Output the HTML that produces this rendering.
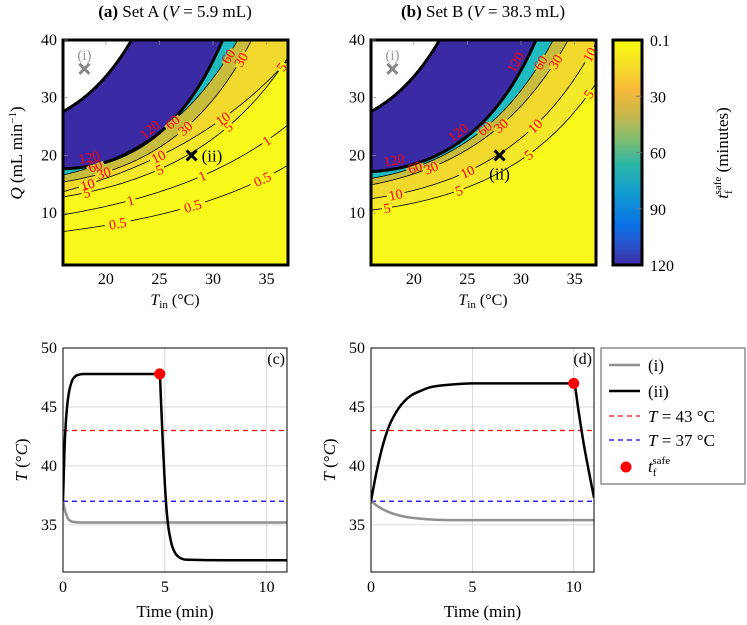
<!DOCTYPE html>
<html><head><meta charset="utf-8"><style>
html,body{margin:0;padding:0;background:#fff}
svg{display:block;font-family:"Liberation Serif",serif}
</style></head><body>
<svg id="fig" width="747" height="625" viewBox="0 0 747 625" xmlns="http://www.w3.org/2000/svg">
<defs>
<linearGradient id="cbg" x1="0" y1="0" x2="0" y2="1">
<stop offset="0" stop-color="#f9fb0e"/><stop offset="0.12" stop-color="#f6dc2a"/>
<stop offset="0.22" stop-color="#f7b83a"/><stop offset="0.33" stop-color="#c9b84a"/>
<stop offset="0.45" stop-color="#7cbc72"/><stop offset="0.55" stop-color="#2cb6a4"/>
<stop offset="0.68" stop-color="#139cd0"/><stop offset="0.82" stop-color="#0a72e6"/>
<stop offset="0.92" stop-color="#2a50c8"/><stop offset="1" stop-color="#3d2aa2"/>
</linearGradient>
<clipPath id="clipA"><rect x="63" y="40" width="225" height="225"/></clipPath>
<clipPath id="clipB"><rect x="371" y="40" width="225" height="225"/></clipPath>
<clipPath id="clipC"><rect x="63" y="348" width="224" height="224"/></clipPath>
<clipPath id="clipD"><rect x="371" y="348" width="223" height="224"/></clipPath>
</defs>
<g id="root"></g>
</svg>
<script>
// ---- contour data (panel a): three (T,Q) points on each contour
const levelsA = ['W', 120, 60, 30, 10, 5, 1, 0.5];
const qLeftA = [27.6, 17.7, 16.6, 15.4, 13.7, 12.8, 9.7, 6.8];   // Q at T=16
const tMidA  = [19.1, 25.3, 26.0, 27.4, 24.9, 24.9, 28.8, 27.8];
const qMidA  = [31.9, 24.4, 25.5, 24.7, 19.8, 17.5, 16.3, 11.1];
const tEndA  = [22.4, 30.9, 32.3, 33.6, 37, 37, 37, 37];
const qEndA  = [40, 40, 40, 40, 36.5, 37, 25.3, 18.3];
// ---- contour data (panel b)
const levelsB = ['W', 120, 60, 30, 10, 5];
const qLeftB = [27.6, 17.2, 16.0, 14.9, 12.5, 10.5];
const tMidB  = [19.1, 25.3, 26.6, 27.8, 25.0, 30.6];
const qMidB  = [31.9, 23.8, 24.7, 24.7, 17.2, 20.0];
const tEndB  = [22.4, 31.4, 33.0, 34.4, 37, 37];
const qEndB  = [40, 40, 40, 40, 39.5, 32.5];
// label T positions per level
const labelTA = [[], [18.6, 24.6], [19.0, 26.2, 31.4], [19.8, 27.4, 32.6], [18.3, 24.9, 30.9], [18.2, 25.0, 31.4, 36.4], [22.3, 29.0, 35.0], [21.1, 28.1, 34.6]];
const labelTB = [[], [18.3, 24.6, 30.2], [20.1, 26.6, 31.8], [21.6, 28.1, 33.2], [18.3, 25.0, 31.3, 36.4], [17.5, 24.2, 30.7, 36.3]];
const markT = [18, 28];
const markQ = [35, 20];
// ---- time series
const tCi = [0, 0.1, 0.2, 0.3, 0.5, 0.8, 1, 2, 11];
const yCi = [37, 36.2, 35.7, 35.4, 35.25, 35.2, 35.2, 35.2, 35.2];
const tCii = [0, 0.05, 0.1, 0.2, 0.3, 0.4, 0.5, 0.7, 1, 2, 4, 4.75, 4.8, 4.9, 5, 5.1, 5.2, 5.4, 5.6, 5.8, 6, 8, 11];
const yCii = [37, 40, 42.5, 45, 46.3, 47, 47.4, 47.7, 47.8, 47.8, 47.8, 47.8, 46, 42, 38.5, 36, 34.5, 33, 32.4, 32.15, 32.05, 32, 32];
const tDi = [0, 0.5, 1, 1.5, 2, 3, 4, 6, 11];
const yDi = [37, 36.4, 36, 35.75, 35.6, 35.45, 35.4, 35.4, 35.4];
const tDii = [0, 0.25, 0.5, 0.75, 1, 1.5, 2, 2.5, 3, 4, 5, 6, 8, 10, 10.25, 10.5, 10.75, 11];
const yDii = [37, 39.3, 41.2, 42.7, 43.8, 45.2, 46, 46.4, 46.7, 46.9, 47, 47, 47, 47, 44.5, 41.8, 39.5, 37.3];
const safeT = [4.75, 10];
const safeY = [47.8, 47];
const xTicksTop = [20, 25, 30, 35];
const yTicksTop = [10, 20, 30, 40];
const xTicksBot = [0, 5, 10];
const yTicksBot = [35, 40, 45, 50];
const cbTicks = ['0.1', '30', '60', '90', '120'];

const NS = 'http://www.w3.org/2000/svg';
const root = document.getElementById('root');
function el(tag, attrs, parent, txt) {
  const e = document.createElementNS(NS, tag);
  for (const k in attrs) e.setAttribute(k, attrs[k]);
  if (txt !== undefined) e.textContent = txt;
  (parent || root).appendChild(e);
  return e;
}
const fillAbove = {'W': '#ffffff', 120: '#3a2aa4', 60: '#1ebcc0', 30: '#c8bc3c', 10: '#f0d82c', 5: '#f4e82a', 1: null, 0.5: null};
const bandBelow = {'W': '#3a2aa4', 120: '#1ebcc0', 60: '#c8bc3c', 30: '#f0d82c', 10: '#f4e82a', 5: '#f8f81a', 1: '#f8f81a', 0.5: '#f8f81a'};

function topPanel(x0, levels, qL, tM, qM, tE, qE, labs, clip, name) {
  const sx = T => x0 + (T - 16) / 21 * 225;
  const sy = Q => 265 - (Q - 1) / 39 * 225;
  const qf = (i, T) => {
    const x0_ = 16, x1 = tM[i], x2 = tE[i];
    const a = Math.log(qL[i]), b = Math.log(qM[i]), c = Math.log(qE[i]);
    const v = a * (T - x1) * (T - x2) / ((x0_ - x1) * (x0_ - x2))
            + b * (T - x0_) * (T - x2) / ((x1 - x0_) * (x1 - x2))
            + c * (T - x0_) * (T - x1) / ((x2 - x0_) * (x2 - x1));
    return Math.exp(v);
  };
  const g = el('g', {'clip-path': 'url(#' + clip + ')'});
  
  
  const bg = el('rect', {x: x0, y: 40, width: 225, height: 225, fill: '#f8f81a'}, g);
  
  
  const pathFor = i => {
    let d = '';
    for (let T = 16; T <= 37.001; T += 0.1) {
      let q = qf(i, T);
      if (!(q < 60)) q = 60;
      d += (d ? 'L' : 'M') + sx(T).toFixed(2) + ' ' + sy(q).toFixed(2);
    }
    return d;
  };
  for (let i = levels.length - 1; i >= 0; i--) {
    const col = fillAbove[levels[i]];
    if (!col) continue;
    const p = el('path', {d: pathFor(i) + 'L' + sx(37) + ' 0L' + sx(16) + ' 0Z', fill: col}, g);
    
    
  }
  for (let i = 0; i < levels.length; i++) {
    const thick = (levels[i] === 'W' || levels[i] === 120);
    const p = el('path', {d: pathFor(i), fill: 'none', stroke: '#000', 'stroke-width': thick ? 3 : 0.8}, g);
    
    
    for (const T of labs[i]) {
      const px = sx(T), py = sy(qf(i, T));
      const ang = Math.atan2(sy(qf(i, T + 0.1)) - py, sx(T + 0.1) - px) * 180 / Math.PI;
      const s = String(levels[i]);
      const off = thick ? -9 : 0;
      const tg = el('g', {transform: 'rotate(' + ang.toFixed(1) + ' ' + px + ' ' + py + ')'}, g);
      if (!thick) el('rect', {x: px - s.length * 4 - 1, y: py - 2, width: s.length * 8 + 2, height: 4, fill: bandBelow[levels[i]]}, tg);
      const t = el('text', {x: px, y: py + 5 + off, fill: '#f00', 'font-size': 14, 'text-anchor': 'middle'}, tg, s);
      
      
    }
  }
  const fr = el('rect', {x: x0, y: 40, width: 225, height: 225, fill: 'none', stroke: '#000', 'stroke-width': 3});
  
  
  for (const v of xTicksTop) {
    const t = el('text', {x: sx(v), y: 284, 'font-size': 16, 'text-anchor': 'middle'}, root, String(v));
    
    
    const tk = el('line', {x1: sx(v), x2: sx(v), y1: 41, y2: 45, stroke: '#888', 'stroke-width': 0.7});
    
    
  }
  for (const v of yTicksTop) {
    const t = el('text', {x: x0 - 6, y: sy(v) + 5, 'font-size': 16, 'text-anchor': 'end'}, root, String(v));
    
    
    const tk = el('line', {x1: x0 + 1, x2: x0 + 5, y1: sy(v), y2: sy(v), stroke: '#888', 'stroke-width': 0.7});
    
    
  }
  const cross = (T, Q, col, nm) => {
    const cx = sx(T), cy = sy(Q);
    const m = el('path', {d: `M${cx - 5} ${cy - 5}L${cx + 5} ${cy + 5}M${cx - 5} ${cy + 5}L${cx + 5} ${cy - 5}`, stroke: col, 'stroke-width': 3});
    
    
  };
  cross(markT[0], markQ[0], '#888', 'marker-i');
  cross(markT[1], markQ[1], '#000', 'marker-ii');
  const li = el('text', {x: sx(markT[0]), y: sy(markQ[0]) - 9, 'font-size': 15, fill: '#999', 'text-anchor': 'middle'}, root, '(i)');
  
  
  const lii = name === 'panel-a'
    ? el('text', {x: sx(markT[1]) + 10, y: sy(markQ[1]) + 6, 'font-size': 17}, root, '(ii)')
    : el('text', {x: sx(markT[1]), y: sy(markQ[1]) + 24, 'font-size': 17, 'text-anchor': 'middle'}, root, '(ii)');
  
  
  const xl = el('text', {x: x0 + 112, y: 305, 'font-size': 16, 'text-anchor': 'middle'});
  
  
  xl.innerHTML = '<tspan font-style="italic">T</tspan><tspan font-size="11" dy="3">in</tspan><tspan dy="-3"> (°C)</tspan>';
}

// monotone cubic (Fritsch-Carlson) path, no overshoot
function monoPath(xs, ys) {
  const n = xs.length, d = [], m = [];
  for (let i = 0; i < n - 1; i++) d.push((ys[i + 1] - ys[i]) / (xs[i + 1] - xs[i]));
  m[0] = d[0]; m[n - 1] = d[n - 2];
  for (let i = 1; i < n - 1; i++) m[i] = (d[i - 1] * d[i] <= 0) ? 0 : 2 / (1 / d[i - 1] + 1 / d[i]);
  let p = 'M' + xs[0].toFixed(2) + ' ' + ys[0].toFixed(2);
  for (let i = 0; i < n - 1; i++) {
    const h = (xs[i + 1] - xs[i]) / 3;
    p += `C${(xs[i] + h).toFixed(2)} ${(ys[i] + m[i] * h).toFixed(2)} ${(xs[i + 1] - h).toFixed(2)} ${(ys[i + 1] - m[i + 1] * h).toFixed(2)} ${xs[i + 1].toFixed(2)} ${ys[i + 1].toFixed(2)}`;
  }
  return p;
}

function botPanel(x0, w, ti, yi, tii, yii, k, clip, tag) {
  const sx = t => x0 + t / 11 * w;
  const sy = T => 348 + (50 - T) * 224 / 19;
  for (const v of xTicksBot) {
    const gl = el('line', {x1: sx(v), x2: sx(v), y1: 348, y2: 572, stroke: '#d0d0d0', 'stroke-width': 0.8});
    
    
    const t = el('text', {x: sx(v), y: 592, 'font-size': 16, 'text-anchor': 'middle'}, root, String(v));
    
    
  }
  for (const v of yTicksBot) {
    const gl = el('line', {x1: x0, x2: x0 + w, y1: sy(v), y2: sy(v), stroke: '#d0d0d0', 'stroke-width': 0.8});
    
    
    const t = el('text', {x: x0 - 6, y: sy(v) + 5, 'font-size': 16, 'text-anchor': 'end'}, root, String(v));
    
    
  }
  const g = el('g', {'clip-path': 'url(#' + clip + ')'});
  const r43 = el('line', {x1: x0, x2: x0 + w, y1: sy(43), y2: sy(43), stroke: '#f00', 'stroke-width': 1.3, 'stroke-dasharray': '5 4'}, g);
  
  
  const r37 = el('line', {x1: x0, x2: x0 + w, y1: sy(37), y2: sy(37), stroke: '#00f', 'stroke-width': 1.3, 'stroke-dasharray': '5 4'}, g);
  
  
  const p1 = el('path', {d: monoPath(ti.map(sx), yi.map(sy)), fill: 'none', stroke: '#909090', 'stroke-width': 2.5}, g);
  
  
  const p2 = el('path', {d: monoPath(tii.map(sx), yii.map(sy)), fill: 'none', stroke: '#000', 'stroke-width': 2.5}, g);
  
  
  const dot = el('circle', {cx: sx(safeT[k]), cy: sy(safeY[k]), r: 5.5, fill: '#f00'});
  
  
  const fr = el('rect', {x: x0, y: 348, width: w, height: 224, fill: 'none', stroke: '#000', 'stroke-width': 1});
  
  
  const pl = el('text', {x: x0 + w - 2, y: 364, 'font-size': 16, 'text-anchor': 'end'}, root, tag);
  
  
  const xl = el('text', {x: x0 + w / 2, y: 617, 'font-size': 17, 'text-anchor': 'middle'}, root, 'Time (min)');
  
  
  const yl = el('text', {x: 0, y: 0, 'font-size': 17, 'text-anchor': 'middle', transform: `translate(${x0 - 36} 460) rotate(-90)`});
  
  
  yl.innerHTML = '<tspan font-style="italic">T</tspan> (°<tspan font-style="italic">C</tspan>)';
}

topPanel(63, levelsA, qLeftA, tMidA, qMidA, tEndA, qEndA, labelTA, 'clipA', 'panel-a');
topPanel(371, levelsB, qLeftB, tMidB, qMidB, tEndB, qEndB, labelTB, 'clipB', 'panel-b');
botPanel(63, 224, tCi, yCi, tCii, yCii, 0, 'clipC', '(c)');
botPanel(371, 223, tDi, yDi, tDii, yDii, 1, 'clipD', '(d)');

const ta = el('text', {x: 175, y: 17, 'font-size': 17, 'text-anchor': 'middle'});


ta.innerHTML = '<tspan font-weight="bold">(a)</tspan> Set A (<tspan font-style="italic">V</tspan> = 5.9 mL)';
const tb = el('text', {x: 483, y: 17, 'font-size': 17, 'text-anchor': 'middle'});


tb.innerHTML = '<tspan font-weight="bold">(b)</tspan> Set B (<tspan font-style="italic">V</tspan> = 38.3 mL)';
const qy = el('text', {x: 0, y: 0, 'font-size': 17, 'text-anchor': 'middle', transform: 'translate(22 153) rotate(-90)'});


qy.innerHTML = '<tspan font-style="italic">Q</tspan> (mL min<tspan font-size="11" dy="-6">−1</tspan><tspan dy="6">)</tspan>';

const cb = el('rect', {x: 613, y: 40, width: 29, height: 225, fill: 'url(#cbg)', stroke: '#000', 'stroke-width': 3});


cbTicks.forEach((s, i) => {
  const y = 40 + i * 225 / (cbTicks.length - 1);
  const t = el('text', {x: 650, y: y + 6, 'font-size': 16}, root, s);
  
  
  if (i > 0 && i < cbTicks.length - 1) {
    const tk = el('line', {x1: 636, x2: 642, y1: y, y2: y, stroke: '#777', 'stroke-width': 0.8});
    
    
  }
});
const cl = el('text', {x: 0, y: 0, 'font-size': 17, 'text-anchor': 'middle', transform: 'translate(728 153) rotate(-90)'});


cl.innerHTML = '<tspan font-style="italic">t</tspan><tspan font-size="11" dy="4">f</tspan><tspan font-size="11" dx="-4" dy="-11">safe</tspan><tspan dy="7"> (minutes)</tspan>';

const lg = el('g', {});


el('rect', {x: 601, y: 348, width: 144, height: 136, fill: '#fff', stroke: '#555', 'stroke-width': 1}, lg);
const entries = [
  {y: 365, col: '#909090', dash: null, w: 2.5, label: '(i)'},
  {y: 391, col: '#000', dash: null, w: 2.5, label: '(ii)'},
  {y: 416, col: '#f00', dash: '5 4', w: 1.3, label: '<tspan font-style="italic">T</tspan> = 43 °C'},
  {y: 440, col: '#00f', dash: '5 4', w: 1.3, label: '<tspan font-style="italic">T</tspan> = 37 °C'}
];
entries.forEach(e => {
  const gg = el('g', {}, lg);
  
  
  const a = {x1: 609, x2: 640, y1: e.y, y2: e.y, stroke: e.col, 'stroke-width': e.w};
  if (e.dash) a['stroke-dasharray'] = e.dash;
  el('line', a, gg);
  const t = el('text', {x: 648, y: e.y + 6, 'font-size': 17}, gg);
  t.innerHTML = e.label;
});
const ge = el('g', {}, lg);


el('circle', {cx: 626, cy: 467, r: 5.5, fill: '#f00'}, ge);
const st = el('text', {x: 648, y: 472, 'font-size': 17}, ge);
st.innerHTML = '<tspan font-style="italic">t</tspan><tspan font-size="11" dy="4">f</tspan><tspan font-size="11" dx="-4" dy="-12">safe</tspan>';
</script>
</body></html>
